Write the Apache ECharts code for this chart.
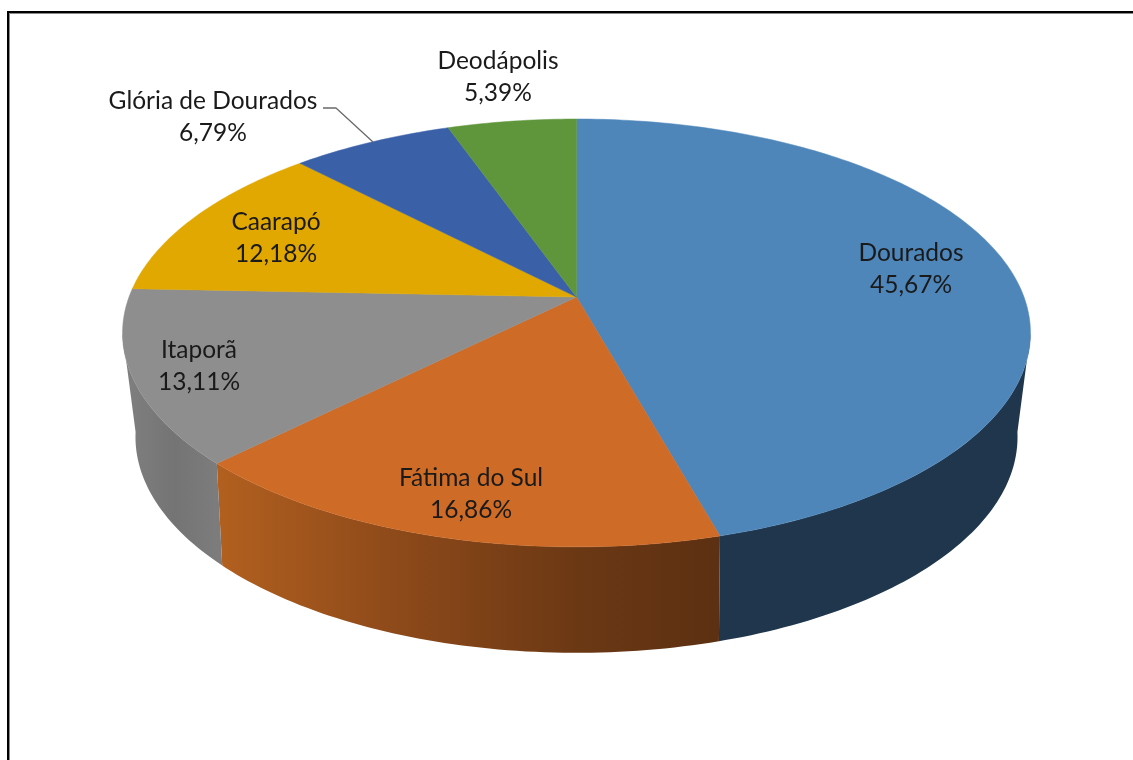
<!DOCTYPE html>
<html>
<head>
<meta charset="utf-8">
<style>
  html, body { margin: 0; padding: 0; background: #fff; overflow: hidden; }
  #chart { width: 1133px; height: 760px; }
</style>
<script src="https://cdn.jsdelivr.net/npm/echarts@6/dist/echarts.min.js"></script>
</head>
<body>
<div id="chart"></div>
<script>
// slice order is clockwise from 12 o'clock
const names = ["Dourados", "Fátima do Sul", "Itaporã", "Caarapó", "Glória de Dourados", "Deodápolis"];
const shares = [45.67, 16.86, 13.11, 12.18, 6.79, 5.39];
const shareLabels = ["45,67%", "16,86%", "13,11%", "12,18%", "6,79%", "5,39%"];

// styling
const topColors = ["#4e86ba", "#cd6b27", "#8e8e8e", "#e0a800", "#3a60a8", "#5f963c"];
const wallStops = [
  [[0, "#20364d"], [1, "#20364d"]],
  [[0, "#b2601f"], [0.35, "#8e4a1a"], [0.72, "#6b3814"], [1, "#5c3012"]],
  [[0, "#808080"], [0.55, "#747474"], [1, "#7c7c7c"]],
  [[0, "#7d6000"], [1, "#7d6000"]],
  [[0, "#23396a"], [1, "#23396a"]],
  [[0, "#395a24"], [1, "#395a24"]],
];
const labelAnchors = [[911, 269], [471, 494], [199, 366], [276, 238], [213, 117], [498, 77]];
const leaderLine = [[323, 108], [336, 108], [373, 142]];

// perspective of the tilted disc: the rim planes of the pie
const topRim = { cx: 576.5, cy: 297, a: 447.5, b: 207.9, p: 0.168 };
const bottomRim = { cx: 576.5, cy: 396, a: 433, b: 208, p: 0.19 };

const project = (rim, deg) => {
  const t = (deg * Math.PI) / 180;
  const u = Math.sin(t);
  const v = -Math.cos(t);
  const d = 1 - rim.p * v;
  return [rim.cx + (rim.a * u) / d, rim.cy + (rim.b * v) / d];
};

const sliceRange = (index) => {
  const total = shares.reduce((s, v) => s + v, 0);
  const before = shares.slice(0, index).reduce((s, v) => s + v, 0);
  return [(before / total) * 360, ((before + shares[index]) / total) * 360];
};

const arcAngles = (start, end) => {
  const list = [];
  for (let deg = start; deg < end; deg += 1) list.push(deg);
  list.push(end);
  return list;
};

// the wall only shows between the two points where the rim turns back
const sideAngle = (Math.acos(-topRim.p) * 180) / Math.PI;

const renderWall = (params, api) => {
  const index = params.dataIndex;
  const [sliceStart, sliceEnd] = sliceRange(index);
  const start = Math.max(sliceStart, sideAngle);
  const end = Math.min(sliceEnd, 360 - sideAngle);
  if (start >= end) return null;
  const angles = arcAngles(start, end);
  const upper = angles.map((d) => api.coord(project(topRim, d)));
  const lower = angles.map((d) => api.coord(project(bottomRim, d))).reverse();
  const xs = upper.map((pt) => pt[0]);
  const fill = new echarts.graphic.LinearGradient(
    Math.min(...xs), 0, Math.max(...xs), 0,
    wallStops[index].map(([offset, color]) => ({ offset, color })),
    true
  );
  return {
    type: "polygon",
    shape: { points: upper.concat(lower) },
    style: { fill },
  };
};

const renderTop = (params, api) => {
  const [start, end] = sliceRange(params.dataIndex);
  const rim = arcAngles(start, end).map((d) => api.coord(project(topRim, d)));
  const points = [api.coord([topRim.cx, topRim.cy])].concat(rim);
  return {
    type: "polygon",
    shape: { points },
    style: { fill: topColors[params.dataIndex], stroke: topColors[params.dataIndex], lineWidth: 0.5 },
  };
};

const chart = echarts.init(document.getElementById("chart"));

chart.setOption({
  animation: false,
  backgroundColor: "#ffffff",
  grid: { left: 0, right: 0, top: 0, bottom: 0 },
  xAxis: { type: "value", min: 0, max: 1133, show: false },
  yAxis: { type: "value", min: 0, max: 760, inverse: true, show: false },
  series: [
    {
      type: "custom",
      coordinateSystem: "cartesian2d",
      silent: true,
      z: 1,
      data: shares.map((v, i) => [i, v]),
      renderItem: renderWall,
    },
    {
      type: "custom",
      coordinateSystem: "cartesian2d",
      silent: true,
      z: 2,
      data: shares.map((v, i) => [i, v]),
      renderItem: renderTop,
    },
    {
      type: "line",
      silent: true,
      z: 3,
      showSymbol: false,
      data: leaderLine,
      lineStyle: { color: "#6a6a6a", width: 1.3 },
    },
    {
      type: "scatter",
      silent: true,
      z: 4,
      symbolSize: 1,
      itemStyle: { color: "transparent", opacity: 1 },
      data: names.map((name, i) => ({ name, value: labelAnchors[i] })),
      label: {
        show: true,
        position: "inside",
        align: "center",
        verticalAlign: "middle",
        formatter: (p) => `${p.name}\n${shareLabels[p.dataIndex]}`,
        color: "#1a1a1a",
        textBorderWidth: 0,
        textBorderColor: "transparent",
        fontFamily: "Lato, sans-serif",
        fontSize: 24.5,
        lineHeight: 32,
      },
    },
  ],
  graphic: [
    { type: "rect", z: 10, shape: { x: 9, y: 13, width: 1124, height: 1 }, style: { fill: "#8a8a8a" } },
    { type: "rect", z: 10, shape: { x: 9, y: 13, width: 1, height: 747 }, style: { fill: "#8a8a8a" } },
    { type: "rect", z: 11, shape: { x: 7, y: 11, width: 1126, height: 2 }, style: { fill: "#000000" } },
    { type: "rect", z: 11, shape: { x: 7, y: 11, width: 2, height: 749 }, style: { fill: "#000000" } },
  ],
});
</script>
</body>
</html>
